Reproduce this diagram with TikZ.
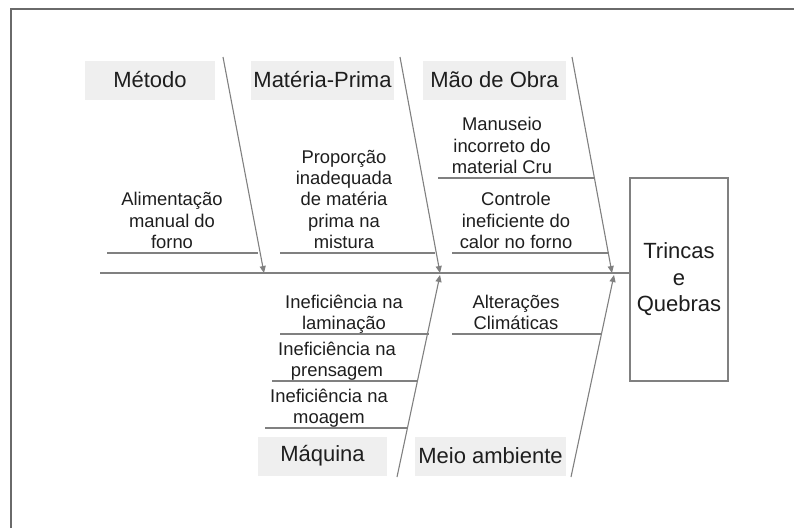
\documentclass[tikz,border=0pt]{standalone}
\usepackage{fontspec}
\setmainfont{Liberation Sans}
\usetikzlibrary{arrows.meta}
\definecolor{bone}{HTML}{808080}
\definecolor{hdrfill}{HTML}{EFEFEF}
\definecolor{txt}{HTML}{1E1E1E}
\definecolor{frame}{HTML}{6A6A6A}
\tikzset{
  header/.style={fill=hdrfill, draw=none, text=txt, inner sep=0pt,
    minimum height=39pt, font=\fontsize{22}{26}\selectfont},
  cause/.style={text=txt, align=center, inner sep=0pt, text depth=0pt,
    anchor=south, font=\fontsize{18.4}{21.3}\selectfont},
  effectbox/.style={draw=bone, line width=1.3pt, fill=white, text=txt, align=center,
    minimum width=98pt, minimum height=203pt, inner sep=0pt,
    font=\fontsize{22}{26.5}\selectfont},
  boneline/.style={draw=bone, line width=1.1pt},
  bonearrow/.style={draw=bone, line width=1.1pt, -{Triangle[length=7pt,width=6pt,fill=bone]}},
}
\begin{document}
\begin{tikzpicture}[x=1pt,y=-1pt]
\useasboundingbox (0,0) rectangle (794,528);
% frame
\coordinate (fr1) at (11,528);
\coordinate (fr2) at (11,9);
\coordinate (fr3) at (794,9);
\draw[frame, line width=1.5pt] (fr1) -- (fr2) -- (fr3);

% headers
\node[header, minimum width=130pt] (metodo) at (150,80) {Método};
\node[header, minimum width=143pt] (materia) at (322.5,80) {Matéria-Prima};
\node[header, minimum width=143pt] (maode) at (494.5,80) {Mão de Obra};
\node[header, minimum width=129pt] (maquina) at (322.5,456) {Máquina};
\node[header, minimum width=151pt] (meio) at (490.5,456) {Meio ambiente};

% effect
\node[effectbox] (efeito) at (679,279.5) {Trincas\\e\\Quebras};

% spine
\coordinate (spineL) at (100,273);
\draw[boneline] (spineL) -- (efeito.west |- spineL);

% bones
\coordinate (d1t) at (223,57);  \coordinate (d1e) at (264,273);
\coordinate (d2t) at (400,57);  \coordinate (d2e) at (440,273);
\coordinate (d3t) at (572,57);  \coordinate (d3e) at (612,273);
\coordinate (d4b) at (397,477); \coordinate (d4e) at (440,275);
\coordinate (d5b) at (571,477); \coordinate (d5e) at (614,275);
\draw[bonearrow] (d1t) -- (d1e);
\draw[bonearrow] (d2t) -- (d2e);
\draw[bonearrow] (d3t) -- (d3e);
\draw[bonearrow] (d4b) -- (d4e);
\draw[bonearrow] (d5b) -- (d5e);

% causes - upper
\node[cause] (c1) at (172,248.5) {Alimentação\\manual do\\forno};
\coordinate (u1a) at (107,253); \coordinate (u1b) at (258,253);
\draw[boneline] (u1a) -- (u1b);

\node[cause] (c2) at (344,248.5) {Proporção\\inadequada\\de matéria\\prima na\\mistura};
\coordinate (u2a) at (280,253); \coordinate (u2b) at (435,253);
\draw[boneline] (u2a) -- (u2b);

\node[cause] (c3) at (502,173.5) {Manuseio\\incorreto do\\material Cru};
\coordinate (u3a) at (438,178); \coordinate (u3b) at (594,178);
\draw[boneline] (u3a) -- (u3b);

\node[cause] (c4) at (516,248.5) {Controle\\ineficiente do\\calor no forno};
\coordinate (u4a) at (452,253); \coordinate (u4b) at (609,253);
\draw[boneline] (u4a) -- (u4b);

% causes - lower
\node[cause] (c5) at (344,329.5) {Ineficiência na\\laminação};
\coordinate (u5a) at (280,334); \coordinate (u5b) at (429,334);
\draw[boneline] (u5a) -- (u5b);

\node[cause] (c6) at (337,376.5) {Ineficiência na\\prensagem};
\coordinate (u6a) at (272,381); \coordinate (u6b) at (418,381);
\draw[boneline] (u6a) -- (u6b);

\node[cause] (c7) at (329,423.5) {Ineficiência na\\moagem};
\coordinate (u7a) at (265,428); \coordinate (u7b) at (408,428);
\draw[boneline] (u7a) -- (u7b);

\node[cause] (c8) at (516,329.5) {Alterações\\Climáticas};
\coordinate (u8a) at (452,334); \coordinate (u8b) at (602,334);
\draw[boneline] (u8a) -- (u8b);
\end{tikzpicture}
\end{document}
